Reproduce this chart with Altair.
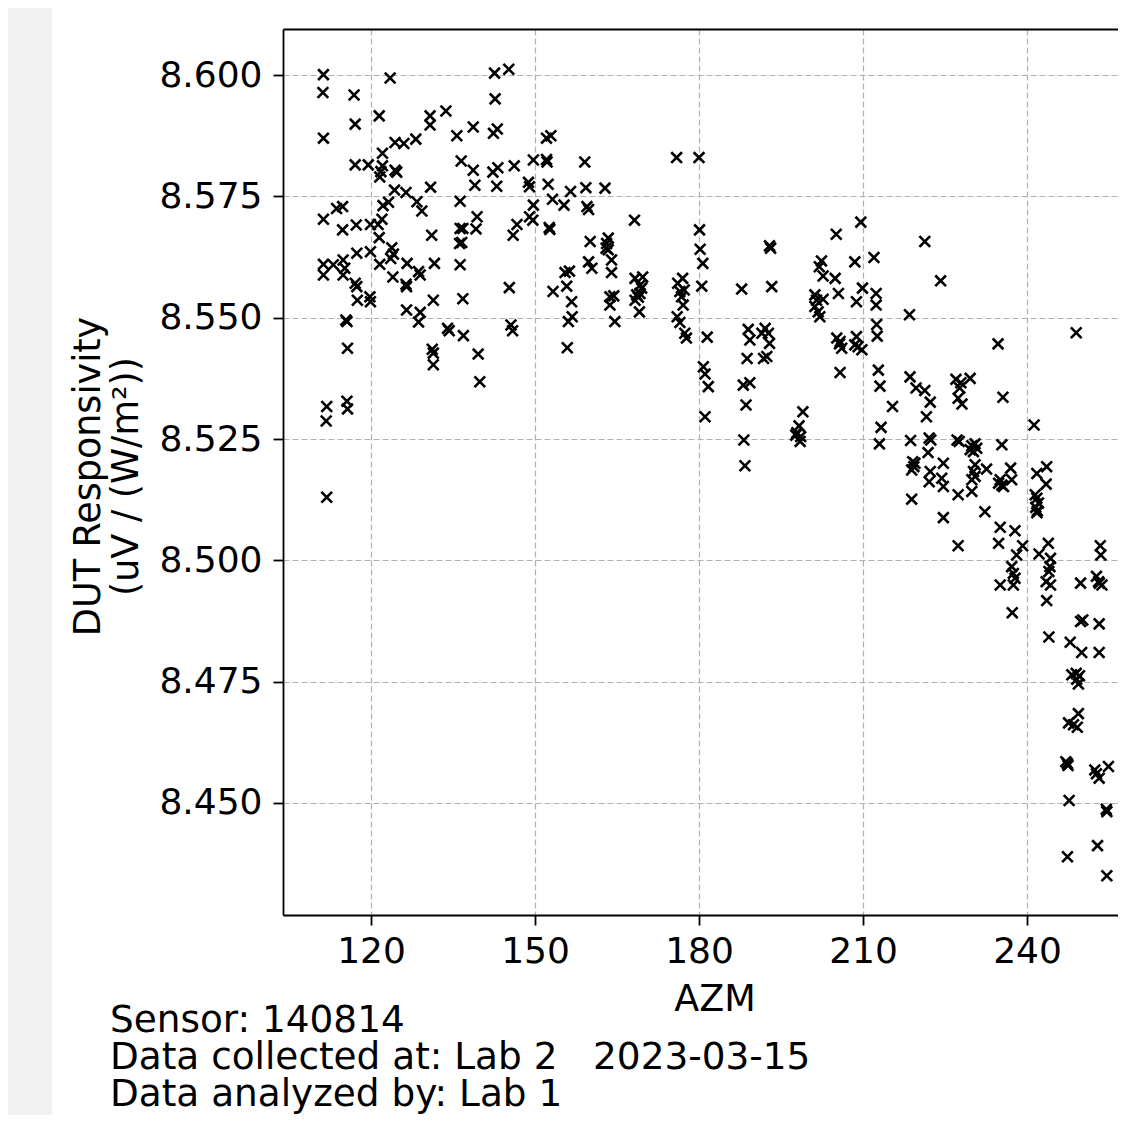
import altair as alt
import pandas as pd

# ---- data (AZM in degrees, responsivity) ----
azm_a = [111.3, 123.5, 142.6, 145.2, 111.2, 116.9, 142.7, 121.5, 130.8, 133.7,
         117.1, 130.8, 138.7, 135.7, 142.4, 143.1, 111.3, 124.4, 126.0, 128.2,
         122.1, 117.1, 119.5, 122.1, 121.8, 121.6, 124.4, 124.7, 136.5, 138.7,
         142.3, 143.2, 146.2, 149.7, 130.9, 139.0, 143.0, 148.8, 149.0, 124.3,
         126.4, 136.3, 128.4, 129.3, 122.2, 123.2, 113.7, 114.8, 111.3, 149.7,
         149.0, 149.6, 139.4, 122.0, 121.3, 114.8, 117.3, 119.9, 131.1, 136.3,
         136.8, 139.2, 136.2, 136.6, 146.7, 146.0, 121.5, 117.4, 119.9, 123.8,
         124.1, 123.6, 111.3, 111.3, 114.9, 115.2, 114.9, 113.1, 121.6, 126.6,
         128.7, 129.0, 131.6, 136.3, 117.1, 124.0, 126.4]
resp_a = [8.6001, 8.5994, 8.6004, 8.6012, 8.5964, 8.5959, 8.5951, 8.5916, 8.5916, 8.5926,
          8.5899, 8.5897, 8.5893, 8.5875, 8.5880, 8.5889, 8.5870, 8.5861, 8.5859, 8.5868,
          8.5839, 8.5815, 8.5815, 8.5813, 8.5801, 8.5790, 8.5804, 8.5800, 8.5823, 8.5804,
          8.5800, 8.5809, 8.5813, 8.5825, 8.5769, 8.5773, 8.5771, 8.5779, 8.5770, 8.5763,
          8.5758, 8.5740, 8.5739, 8.5720, 8.5731, 8.5738, 8.5725, 8.5729, 8.5703, 8.5732,
          8.5708, 8.5701, 8.5708, 8.5703, 8.5692, 8.5681, 8.5691, 8.5692, 8.5670, 8.5684,
          8.5684, 8.5683, 8.5653, 8.5655, 8.5692, 8.5670, 8.5665, 8.5633, 8.5636, 8.5644,
          8.5631, 8.5622, 8.5610, 8.5588, 8.5619, 8.5602, 8.5588, 8.5609, 8.5610, 8.5612,
          8.5595, 8.5588, 8.5612, 8.5609, 8.5571, 8.5584, 8.5569]

azm_b = [117.4, 117.5, 119.8, 119.9, 126.5, 126.5, 129.0, 128.7, 131.4, 136.8,
         145.3, 115.4, 115.6, 115.7, 134.0, 134.3, 136.9, 131.2, 131.4, 131.4,
         139.6, 139.9, 145.6, 145.9, 111.9, 111.8, 115.6, 115.7, 111.9]
resp_b = [8.5564, 8.5536, 8.5543, 8.5533, 8.5564, 8.5516, 8.5511, 8.5491, 8.5536, 8.5539,
          8.5562, 8.5495, 8.5492, 8.5437, 8.5478, 8.5473, 8.5463, 8.5435, 8.5427, 8.5403,
          8.5425, 8.5368, 8.5485, 8.5473, 8.5317, 8.5287, 8.5328, 8.5312, 8.5130]

azm_c = [152.1, 152.9, 152.1, 152.2, 159.1, 175.9, 180.0, 152.4, 156.5, 153.2,
         155.3, 159.3, 162.8, 159.5, 159.8, 152.6, 152.7, 168.2, 160.1, 163.4,
         163.1, 163.0, 163.4, 164.0, 164.0, 159.8, 160.4, 155.5, 156.3, 155.8,
         153.3, 156.7, 156.8, 156.1, 155.9, 163.7, 164.4, 163.7, 164.6, 168.3,
         169.7, 169.2, 169.5, 168.6, 168.9, 168.3, 169.2, 169.1, 176.1, 177.0,
         176.5, 177.3, 176.8, 177.1, 176.0, 176.5, 177.4, 177.7, 180.1, 180.2,
         180.7, 180.5, 181.5, 187.8, 193.3, 192.9, 193.1, 189.0, 189.3, 188.8,
         192.1, 192.7, 191.5, 192.9, 191.8, 192.4,
         180.8, 181.1, 181.7, 181.1, 188.1, 189.3, 188.6, 188.2, 188.4]
resp_c = [8.5870, 8.5875, 8.5826, 8.5821, 8.5821, 8.5830, 8.5830, 8.5775, 8.5760, 8.5744,
          8.5732, 8.5768, 8.5767, 8.5729, 8.5723, 8.5686, 8.5682, 8.5701, 8.5657, 8.5664,
          8.5653, 8.5643, 8.5640, 8.5619, 8.5593, 8.5615, 8.5602, 8.5593, 8.5596, 8.5565,
          8.5554, 8.5533, 8.5502, 8.5492, 8.5438, 8.5543, 8.5545, 8.5526, 8.5492, 8.5581,
          8.5584, 8.5567, 8.5561, 8.5547, 8.5542, 8.5536, 8.5550, 8.5512, 8.5571, 8.5581,
          8.5554, 8.5557, 8.5543, 8.5526, 8.5502, 8.5490, 8.5468, 8.5458, 8.5681, 8.5641,
          8.5612, 8.5565, 8.5460, 8.5559, 8.5564, 8.5648, 8.5643, 8.5476, 8.5454, 8.5416,
          8.5478, 8.5468, 8.5468, 8.5447, 8.5416, 8.5420,
          8.5399, 8.5384, 8.5358, 8.5296, 8.5361, 8.5366, 8.5320, 8.5248, 8.5195]

azm_d = [209.6, 205.1, 221.3, 202.4, 202.0, 202.7, 204.9, 208.5, 212.0, 224.2,
         209.9, 205.5, 212.4, 212.4, 208.8, 201.2, 201.5, 201.2, 201.8, 202.1,
         202.7, 218.5, 212.5, 212.6, 205.2, 205.7, 206.1, 205.8, 208.8, 209.1,
         209.8, 208.5, 234.7, 205.8, 212.8, 213.1, 218.6, 219.7, 221.3, 222.3,
         221.6, 215.4, 227.0, 227.9, 229.6, 227.7, 227.4, 228.1, 235.6, 199.0,
         249.0,
         198.3, 197.9, 198.6, 197.7, 198.5, 213.3, 213.0, 218.7, 222.1, 222.4,
         221.9, 219.1, 219.3, 218.9, 219.5, 222.3, 222.1, 218.9]
resp_d = [8.5697, 8.5672, 8.5657, 8.5617, 8.5605, 8.5586, 8.5581, 8.5615, 8.5624, 8.5576,
          8.5561, 8.5550, 8.5550, 8.5526, 8.5533, 8.5547, 8.5536, 8.5523, 8.5512, 8.5502,
          8.5538, 8.5506, 8.5486, 8.5462, 8.5458, 8.5446, 8.5437, 8.5451, 8.5461, 8.5440,
          8.5434, 8.5444, 8.5446, 8.5387, 8.5392, 8.5359, 8.5378, 8.5355, 8.5350, 8.5326,
          8.5296, 8.5317, 8.5373, 8.5366, 8.5375, 8.5355, 8.5334, 8.5322, 8.5336, 8.5306,
          8.5469,
          8.5277, 8.5263, 8.5255, 8.5258, 8.5245, 8.5274, 8.5240, 8.5247, 8.5252, 8.5248,
          8.5222, 8.5203, 8.5193, 8.5186, 8.5200, 8.5183, 8.5162, 8.5126]

azm_e = [241.3, 227.2, 227.6, 229.9, 230.5, 230.8, 229.6, 230.2, 235.4, 224.7,
         224.4, 224.7, 227.4, 229.9, 230.5, 230.2, 230.5, 229.9, 232.6, 235.1,
         235.4, 234.8, 235.7, 237.0, 237.2, 232.3, 224.7, 227.4, 235.1, 237.8,
         234.8, 239.2, 238.1, 237.2, 237.5, 237.8, 235.1, 237.5, 237.3, 241.8,
         243.6, 243.5, 241.5, 241.8, 242.1, 241.6, 241.9, 241.8, 243.9, 242.2,
         244.3, 244.2, 244.0, 243.5, 244.3, 243.6, 249.8, 252.7, 253.2, 253.7,
         253.1, 253.4, 253.5, 249.8, 250.2, 253.2, 244.0, 247.9]
resp_e = [8.5279, 8.5248, 8.5245, 8.5236, 8.5240, 8.5231, 8.5228, 8.5224, 8.5238, 8.5200,
          8.5169, 8.5152, 8.5135, 8.5142, 8.5197, 8.5183, 8.5173, 8.5166, 8.5188, 8.5166,
          8.5155, 8.5159, 8.5152, 8.5190, 8.5166, 8.5100, 8.5088, 8.5030, 8.5068, 8.5061,
          8.5035, 8.5030, 8.5011, 8.4987, 8.4973, 8.4963, 8.4949, 8.4949, 8.4892, 8.5179,
          8.5193, 8.5157, 8.5135, 8.5128, 8.5118, 8.5109, 8.5102, 8.5098, 8.5035, 8.5013,
          8.5004, 8.4987, 8.4977, 8.4956, 8.4949, 8.4917, 8.4953, 8.4967, 8.4953, 8.4949,
          8.4956, 8.5030, 8.5011, 8.4874, 8.4877, 8.4869, 8.4842, 8.4831]

azm_f = [250.0, 253.2, 248.2, 249.0, 249.6, 249.1, 249.4, 247.6, 248.5, 249.4,
         249.2, 247.1, 247.5, 247.4, 252.4, 253.2, 254.9, 252.7, 247.7, 254.5,
         254.6, 252.9, 247.4, 254.6]
resp_f = [8.4810, 8.4810, 8.4764, 8.4767, 8.4762, 8.4755, 8.4745, 8.4665, 8.4661, 8.4684,
          8.4656, 8.4585, 8.4577, 8.4581, 8.4568, 8.4551, 8.4575, 8.4560, 8.4505, 8.4487,
          8.4482, 8.4412, 8.4389, 8.4350]

x_ticks = [120, 150, 180, 210, 240]
y_ticks = [8.450, 8.475, 8.500, 8.525, 8.550, 8.575, 8.600]
x_title = "AZM"
y_title = ["DUT Responsivity", "(uV / (W/m\u00b2))"]
footer_lines = ["Sensor: 140814",
                "Data collected at: Lab 2\u00a0\u00a0\u00a02023-03-15",
                "Data analyzed by: Lab 1"]

azm = azm_a + azm_b + azm_c + azm_d + azm_e + azm_f
resp = resp_a + resp_b + resp_c + resp_d + resp_e + resp_f
df = pd.DataFrame({"AZM": azm, "resp": resp})

FONT = "DejaVu Sans"
W, H = 835, 886
PAD_L, PAD_T, PAD_B = 275, 21, 200
PX_PER_DEG = 164 / 30.0

x_lo = 103.9
xscale = alt.Scale(domain=[x_lo, x_lo + W / PX_PER_DEG], nice=False, zero=False)
yscale = alt.Scale(domain=[8.4269, 8.6095], nice=False, zero=False)

strip = alt.Chart(pd.DataFrame({"k": [0]})).mark_rect(color="#f2f2f2").encode(
    x=alt.value(-PAD_L), x2=alt.value(-PAD_L + 44),
    y=alt.value(-PAD_T), y2=alt.value(H + PAD_B),
)

points = alt.Chart(df).mark_point(
    shape="M-1,-1L1,1M-1,1L1,-1", filled=False, color="black",
    strokeWidth=2.6, size=115, opacity=1,
).encode(
    x=alt.X("AZM:Q", scale=xscale, axis=alt.Axis(
        values=x_ticks, format="d", title=x_title, orient="bottom",
        titleX=431.5, titleY=95, titleBaseline="alphabetic", titleAlign="center",
        labelPadding=9)),
    y=alt.Y("resp:Q", scale=yscale, axis=alt.Axis(
        values=y_ticks, format=".3f", title=y_title,
        titleX=-184, titleY=447, titleAngle=-90, titleAlign="center",
        titleBaseline="alphabetic", titleLineHeight=38, labelPadding=11)),
)

top_frame = alt.Chart(pd.DataFrame({"AZM": [150.0]})).mark_point(opacity=0).encode(
    x=alt.X("AZM:Q", scale=xscale, axis=alt.Axis(
        orient="top", labels=False, ticks=False, grid=False, domain=True, title="")),
    y=alt.value(0),
)

footer = alt.Chart(pd.DataFrame({"t": ["\n".join(footer_lines)]})).mark_text(
    align="left", baseline="alphabetic", lineBreak="\n", lineHeight=37,
    font=FONT, fontSize=37.4, color="black",
).encode(
    x=alt.value(102 - PAD_L), y=alt.value(1032 - 8 - PAD_T),
    text="t:N",
)

chart = alt.layer(strip, points, top_frame, footer).resolve_scale(
    x="independent"
).properties(
    width=W, height=H,
    autosize=alt.AutoSizeParams(type="none"),
    padding={"left": PAD_L, "top": PAD_T, "right": 0, "bottom": PAD_B},
    background="white",
).configure_view(
    stroke="transparent"
).configure_axis(
    labelFont=FONT, titleFont=FONT, labelFontSize=36, titleFontSize=36.5,
    titleFontWeight="normal", labelColor="black", titleColor="black",
    domainColor="black", domainWidth=1.8, tickColor="black", tickWidth=1.8,
    tickSize=10, gridColor="#b0b0b0", gridDash=[6, 3], gridWidth=1.2,
    labelFlush=False, labelOverlap=False,
)

chart.save("out.html", embed_options={"renderer": "svg", "actions": False})
